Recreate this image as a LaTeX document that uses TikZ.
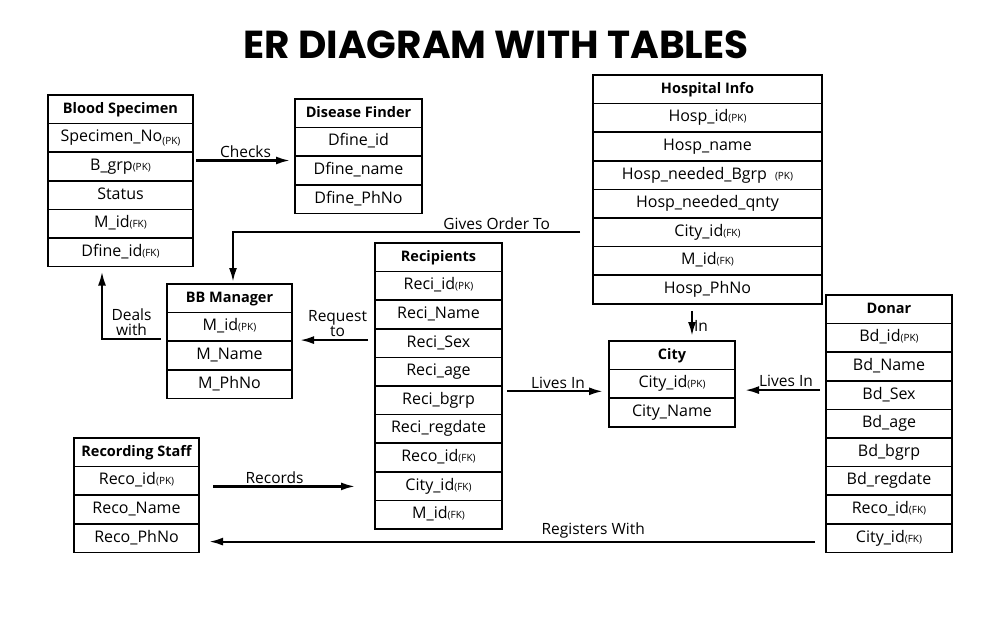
\documentclass[tikz,border=0pt]{standalone}
\usepackage{fontspec}
\setmainfont{Open Sans}
\newfontfamily\titlefont{Poppins}
\usetikzlibrary{positioning, arrows.meta}

\newcommand{\kt}[1]{{\fontsize{10}{10}\selectfont(#1)}}

\begin{document}
\begin{tikzpicture}[x=1pt, y=-1pt,
	tbl/.style={draw, line width=1.5pt, minimum height=28.6pt, inner sep=0pt, outer sep=0pt, text height=12pt, text depth=4pt, font=\fontsize{16}{18}\selectfont},
	tblhead/.style={tbl, font=\fontsize{14.5}{16}\selectfont\bfseries},
	arr/.style={line width=2.2pt, -{Latex[length=14pt,width=8pt]}},
	lbl/.style={font=\fontsize{15.5}{15}\selectfont, inner sep=2pt}]
	\useasboundingbox (0,0) rectangle (990,634);
	\node[font=\titlefont\fontsize{39}{40}\selectfont\bfseries] (ttl) at (496,45) {ER DIAGRAM WITH TABLES};

	\begin{scope}[every node/.append style={minimum width=145pt}]
	\node[tblhead, anchor=north west] (bs1) at (48,95) {Blood Specimen};
	\node[tbl, below=0pt of bs1] (bs2) {Specimen\_No\raisebox{-3pt}{\kt{PK}}};
	\node[tbl, below=0pt of bs2] (bs3) {B\_grp\kt{PK}};
	\node[tbl, below=0pt of bs3] (bs4) {Status};
	\node[tbl, below=0pt of bs4] (bs5) {M\_id\kt{FK}};
	\node[tbl, below=0pt of bs5] (bs6) {Dfine\_id\kt{FK}};
	\end{scope}

	\begin{scope}[every node/.append style={minimum width=127pt}]
	\node[tblhead, anchor=north west] (df1) at (295,99) {Disease Finder};
	\node[tbl, below=0pt of df1] (df2) {Dfine\_id};
	\node[tbl, below=0pt of df2] (df3) {Dfine\_name};
	\node[tbl, below=0pt of df3] (df4) {Dfine\_PhNo};
	\end{scope}

	\begin{scope}[every node/.append style={minimum width=229pt}]
	\node[tblhead, anchor=north west] (hi1) at (593,75) {Hospital Info};
	\node[tbl, below=0pt of hi1] (hi2) {Hosp\_id\kt{PK}};
	\node[tbl, below=0pt of hi2] (hi3) {Hosp\_name};
	\node[tbl, below=0pt of hi3] (hi4) {Hosp\_needed\_Bgrp\enspace\kt{PK}};
	\node[tbl, below=0pt of hi4] (hi5) {Hosp\_needed\_qnty};
	\node[tbl, below=0pt of hi5] (hi6) {City\_id\kt{FK}};
	\node[tbl, below=0pt of hi6] (hi7) {M\_id\kt{FK}};
	\node[tbl, below=0pt of hi7] (hi8) {Hosp\_PhNo};
	\end{scope}

	\begin{scope}[every node/.append style={minimum width=125pt}]
	\node[tblhead, anchor=north west] (bb1) at (167,284) {BB Manager};
	\node[tbl, below=0pt of bb1] (bb2) {M\_id\kt{PK}};
	\node[tbl, below=0pt of bb2] (bb3) {M\_Name};
	\node[tbl, below=0pt of bb3] (bb4) {M\_PhNo};
	\end{scope}

	\begin{scope}[every node/.append style={minimum width=127pt}]
	\node[tblhead, anchor=north west] (rc1) at (375,243) {Recipients};
	\node[tbl, below=0pt of rc1] (rc2) {Reci\_id\kt{PK}};
	\node[tbl, below=0pt of rc2] (rc3) {Reci\_Name};
	\node[tbl, below=0pt of rc3] (rc4) {Reci\_Sex};
	\node[tbl, below=0pt of rc4] (rc5) {Reci\_age};
	\node[tbl, below=0pt of rc5] (rc6) {Reci\_bgrp};
	\node[tbl, below=0pt of rc6] (rc7) {Reci\_regdate};
	\node[tbl, below=0pt of rc7] (rc8) {Reco\_id\kt{FK}};
	\node[tbl, below=0pt of rc8] (rc9) {City\_id\kt{FK}};
	\node[tbl, below=0pt of rc9] (rc10) {M\_id\kt{FK}};
	\end{scope}

	\begin{scope}[every node/.append style={minimum width=126pt}]
	\node[tblhead, anchor=north west] (ct1) at (609,341) {City};
	\node[tbl, below=0pt of ct1] (ct2) {City\_id\kt{PK}};
	\node[tbl, below=0pt of ct2] (ct3) {City\_Name};
	\end{scope}

	\begin{scope}[every node/.append style={minimum width=126pt}]
	\node[tblhead, anchor=north west] (dn1) at (826,295) {Donar};
	\node[tbl, below=0pt of dn1] (dn2) {Bd\_id\kt{PK}};
	\node[tbl, below=0pt of dn2] (dn3) {Bd\_Name};
	\node[tbl, below=0pt of dn3] (dn4) {Bd\_Sex};
	\node[tbl, below=0pt of dn4] (dn5) {Bd\_age};
	\node[tbl, below=0pt of dn5] (dn6) {Bd\_bgrp};
	\node[tbl, below=0pt of dn6] (dn7) {Bd\_regdate};
	\node[tbl, below=0pt of dn7] (dn8) {Reco\_id\kt{FK}};
	\node[tbl, below=0pt of dn8] (dn9) {City\_id\kt{FK}};
	\end{scope}

	\begin{scope}[every node/.append style={minimum width=125pt}]
	\node[tblhead, anchor=north west] (rs1) at (74,438) {Recording Staff};
	\node[tbl, below=0pt of rs1] (rs2) {Reco\_id\kt{PK}};
	\node[tbl, below=0pt of rs2] (rs3) {Reco\_Name};
	\node[tbl, below=0pt of rs3] (rs4) {Reco\_PhNo};
	\end{scope}

	\coordinate (ck) at ([shift={(3pt,6pt)}]bs3.east);
	\draw[arr, shorten >=5pt] (ck) -- (ck -| df3.west) node[lbl, midway, above] {Checks};
	\draw[arr, shorten >=2pt] ([xshift=-13pt]hi6.west) -| ([xshift=3.5pt]bb1.north) node[lbl, pos=0.12, above] {Gives Order To};
	\draw[arr, shorten >=5pt] ([shift={(-6pt,-12pt)}]bb2.west) -| ([xshift=-18.5pt]bs6.south) node[lbl, pos=0.25, above, align=center] {Deals\\with};
	\coordinate (rq) at ([shift={(-7pt,3pt)}]rc4.west);
	\draw[arr, shorten >=8pt] (rq) -- (rq -| bb2.east) node[lbl, pos=0.4, above, align=center] {Request\\to};
	\coordinate (hn) at ([shift={(-15.5pt,-7pt)}]hi8.south);
	\draw[arr, shorten >=5pt] (hn) -- (hn |- ct1.north) node[lbl, midway, right, inner sep=1pt] {In};
	\coordinate (lv1) at ([shift={(5pt,9pt)}]rc6.east);
	\draw[arr, shorten >=6pt] (lv1) -- (lv1 -| ct2.west) node[lbl, midway, above] {Lives In};
	\coordinate (lv2) at ([shift={(-6pt,5pt)}]dn4.west);
	\draw[arr, shorten >=10pt] (lv2) -- (lv2 -| ct2.east) node[lbl, pos=0.4, above] {Lives In};
	\coordinate (rd) at ([shift={(14pt,-5.5pt)}]rs2.east);
	\draw[arr, shorten >=20pt] (rd) -- (rd -| rc8.west) node[lbl, pos=0.38, above] {Records};
	\coordinate (rg) at ([shift={(-11pt,-3.5pt)}]dn9.west);
	\draw[arr, shorten >=10pt] (rg) -- (rg -| rs4.east) node[lbl, pos=0.36, above] {Registers With};
\end{tikzpicture}
\end{document}
